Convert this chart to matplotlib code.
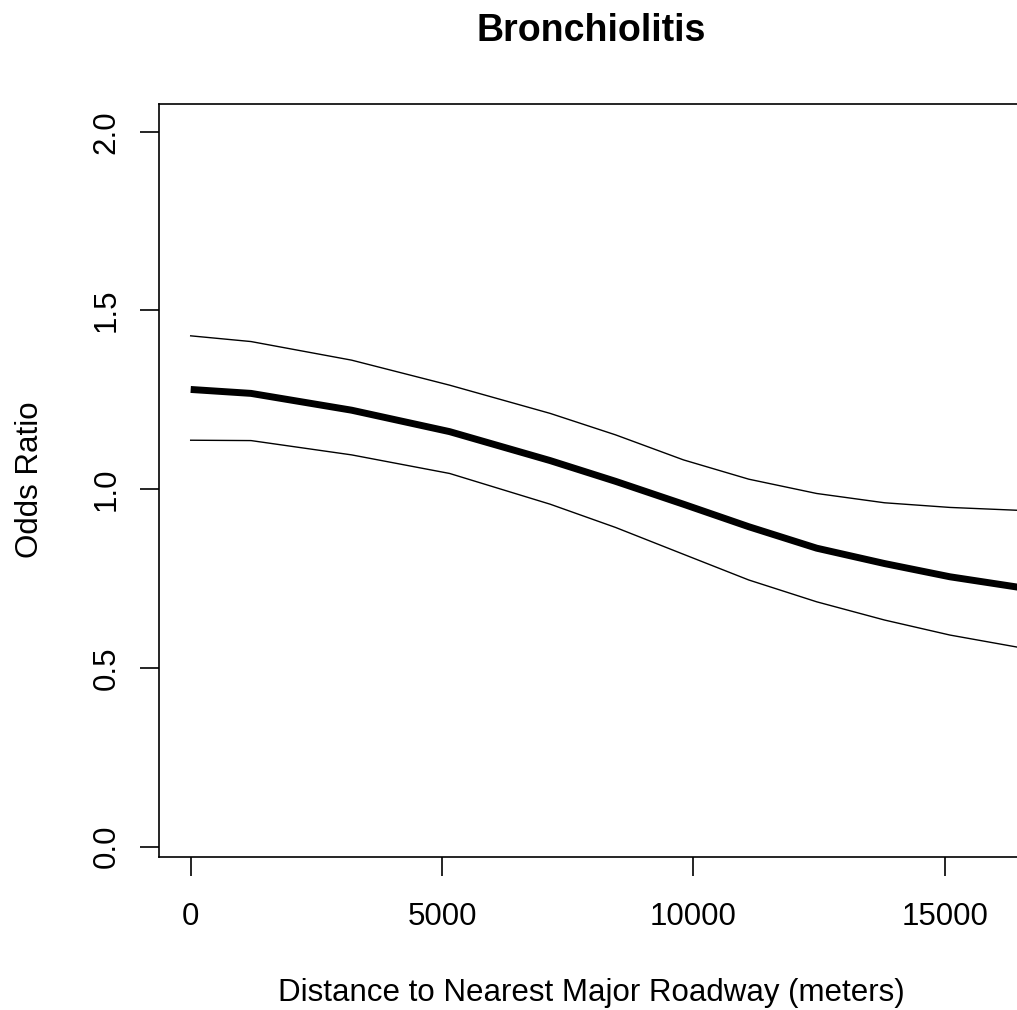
import numpy as np
import matplotlib
matplotlib.use("Agg")
import matplotlib.pyplot as plt

# Values
distance_m = [0, 1200, 3200, 5150, 7150, 8450, 9800, 11100, 12450, 13800, 15100, 16450]
or_fit = [1.279, 1.268, 1.221, 1.161, 1.080, 1.022, 0.958, 0.895, 0.835, 0.792, 0.755, 0.726]
or_upper = [1.429, 1.413, 1.361, 1.291, 1.212, 1.152, 1.082, 1.028, 0.988, 0.962, 0.949, 0.941]
or_lower = [1.137, 1.136, 1.096, 1.044, 0.958, 0.893, 0.818, 0.746, 0.685, 0.634, 0.592, 0.558]

x_ticks = [0, 5000, 10000, 15000]
y_ticks = [0.0, 0.5, 1.0, 1.5, 2.0]
y_tick_labels = ["0.0", "0.5", "1.0", "1.5", "2.0"]

title = "Bronchiolitis"
x_label = "Distance to Nearest Major Roadway (meters)"
y_label = "Odds Ratio"


def make_plot():
    plt.rcParams['font.family'] = ['Liberation Sans', 'DejaVu Sans']
    W, H = 1017, 1010
    fig = plt.figure(figsize=(W / 100, H / 100), dpi=100)

    # axes box runs slightly past the right edge, as in the (cropped) reference
    left_px, right_px, top_px, bottom_px = 158.7, 1024, 104, 856.7
    ax = fig.add_axes([left_px / W, (H - bottom_px) / H,
                       (right_px - left_px) / W, (bottom_px - top_px) / H])

    ax.plot(distance_m, or_fit, color='black', lw=5.0, solid_capstyle='butt')
    ax.plot(distance_m, or_upper, color='black', lw=1.0)
    ax.plot(distance_m, or_lower, color='black', lw=1.0)

    ax.set_xlim(-636, 16573)
    ax.set_ylim(-0.028, 2.0775)

    ax.set_xticks(x_ticks)
    ax.set_xticklabels([str(t) for t in x_ticks])
    ax.set_yticks(y_ticks)
    ax.set_yticklabels(y_tick_labels, rotation=90)
    for lab in ax.get_yticklabels():
        lab.set_va('center')

    ax.tick_params(axis='both', direction='out', length=13.7, width=1.2,
                   colors='black', labelsize=22.5)
    ax.tick_params(axis='x', pad=18.7)
    ax.tick_params(axis='y', pad=13)

    for sp in ax.spines.values():
        sp.set_linewidth(1.2)
        sp.set_color('black')

    cx = (left_px + right_px) / 2 / W
    fig.text(cx, (H - 41) / H, title, ha='center', va='baseline',
             fontsize=27, fontweight='bold')
    fig.text(cx, (H - 1001) / H, x_label, ha='center', va='baseline', fontsize=22.5)
    fig.text(38 / W, (H - 479.5) / H, y_label, rotation=90, rotation_mode='anchor',
             ha='center', va='baseline', fontsize=22.5)

    fig.savefig("out.png", dpi=100)
    plt.close(fig)


if __name__ == "__main__":
    make_plot()
